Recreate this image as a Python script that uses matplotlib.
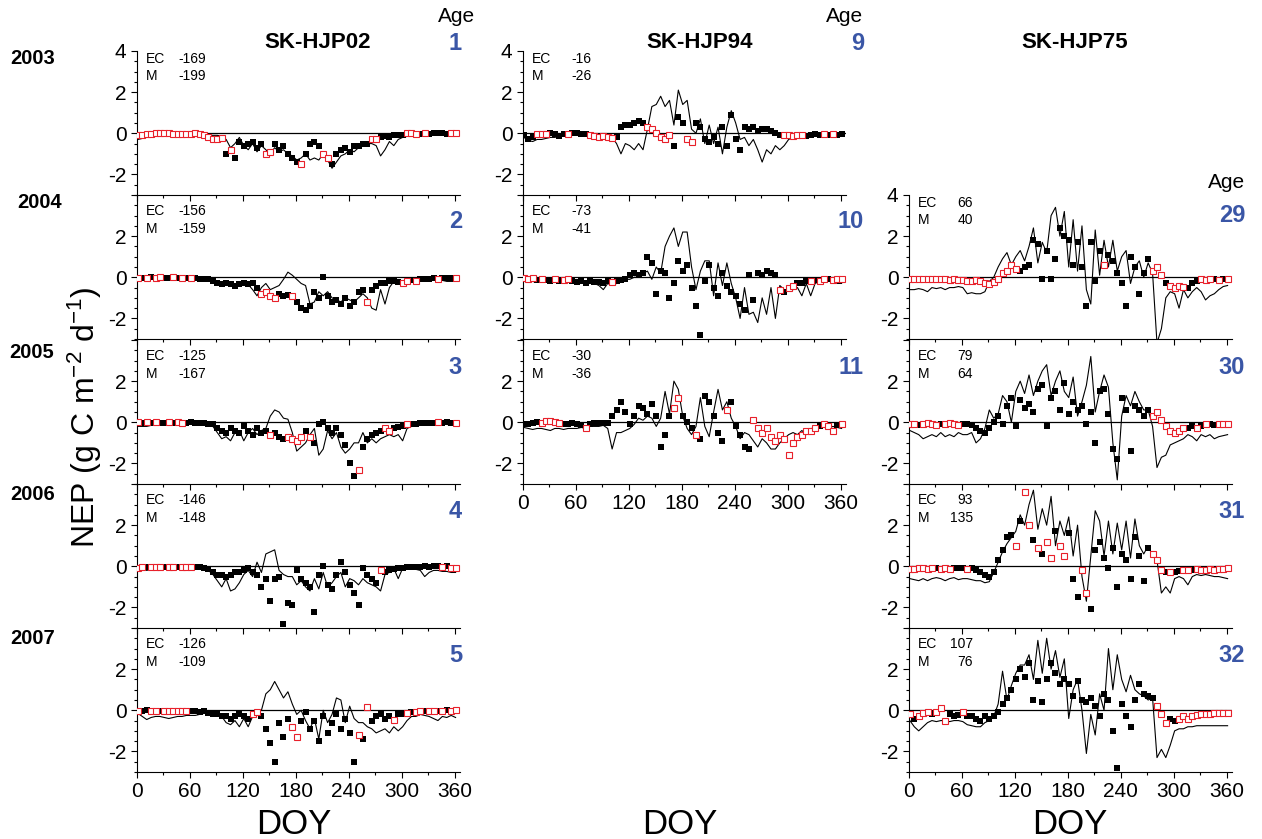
import numpy as np
import matplotlib
matplotlib.use('Agg')
import matplotlib.pyplot as plt
from matplotlib.ticker import MultipleLocator, FuncFormatter

plt.rcParams['font.family'] = ['Liberation Sans', 'DejaVu Sans']
plt.rcParams['mathtext.default'] = 'regular'

# daily series sampled every 5 days, DOY 1, 6, ..., 361
# model = simulated NEP (line), ec = eddy covariance NEP (squares), mask: b = measured, r = gap-filled

# SK-HJP02
a1_model = [-0.3, -0.25, -0.2, -0.2, -0.15, -0.15, -0.1, -0.1, -0.1, -0.1, -0.05, -0.05,
            -0.05, -0.05, -0.05, -0.05, -0.1, -0.1, -0.1, -0.15,
            -0.3, -0.7, -0.5, -0.2, -0.6, -0.8, -0.5, -0.9, -0.6, -0.8,
            -1.0, -0.7, -0.9, -0.8, -1.0, -1.1, -1.3, -1.2, -1.0, -1.3,
            -1.2, -1.3, -1.0, -1.3, -1.7, -1.4, -1.1, -1.0, -0.8, -0.9,
            -0.7, -0.6, -0.5, -0.5, -0.6, -1.1, -0.8, -0.4, -0.6, -0.3,
            -0.2, -0.15, -0.1, -0.1, -0.1, -0.05, -0.05, -0.05, 0, 0, -0.05, -0.05, -0.05]
a1_ec = [-0.1, -0.1, -0.05, -0.05, 0, 0, 0, 0, -0.05, -0.05, -0.05, -0.05,
         -0.05, 0, -0.05, -0.1, -0.2, -0.3, -0.3, -0.25,
         -1.0, -0.8, -1.2, -0.4, -0.6, -0.5, -0.4, -0.7, -0.5, -1.0,
         -0.9, -0.5, -0.8, -0.6, -1.0, -1.2, -1.4, -1.5, -1.0, -0.5,
         -0.4, -0.6, -1.0, -1.2, -1.5, -1.0, -0.8, -0.7, -0.9, -0.6,
         -0.6, -0.5, -0.5, -0.3, -0.3, -0.2, -0.15, -0.2, -0.1, -0.1,
         -0.1, 0, 0, -0.05, -0.05, 0, -0.05, 0, 0, 0, -0.05, 0, 0]
a1_mask = "rrrrrrrrrrrr" + "rrrrrrrr" + "brbbbbbbbr" + "rbbbbbbrbb" + "bbrrbbbbbb" + "bbbrrbbbbb" + "brrrbrbbbbbrr"

a2_model = [-0.1, -0.1, -0.05, -0.05, -0.05, -0.05, 0, 0, 0, -0.05, -0.05, -0.05, -0.05, -0.05, -0.1, -0.1,
            -0.15, -0.2, -0.3, -0.3, -0.35, -0.4, -0.35, -0.4, -0.3, -0.35, -0.6, -0.9,
            -0.5, -0.3, -0.6, -0.5, -0.4, -0.1, 0.25, 0.1,
            -0.1, -0.3, -0.4, -1.3, -1.2, -0.7, -0.9, -0.7, -1.0, -1.1,
            -1.2, -1.0, -1.1, -1.2, -1.0, -0.8, -1.0, -1.5, -1.6, -0.6,
            -1.3, -0.5, -0.2, -0.2, -0.2, -0.15, -0.15, -0.1, -0.1, -0.1, -0.1, -0.1, -0.15, -0.15, -0.2, -0.2, -0.2]
a2_ec = [-0.05, -0.05, -0.05, 0, -0.05, 0, -0.05, -0.05, 0, -0.05, -0.05, -0.05, -0.05, -0.05, -0.1, -0.1,
         -0.1, -0.2, -0.3, -0.35, -0.3, -0.35, -0.4, -0.35, -0.3, -0.35, -0.3, -0.5,
         -0.8, -0.7, -0.9, -1.0, -0.8, -0.9, -0.85, -0.9,
         -1.2, -1.5, -1.6, -1.4, -0.7, -1.0, 0.0, -0.9, -1.2, -1.1,
         -1.3, -1.0, -1.4, -1.2, -0.7, -0.6, -1.2, -0.6, -0.4, -0.3,
         -0.3, -0.2, -0.2, -0.25, -0.3, -0.2, -0.15, -0.2, -0.1, -0.1, -0.1, -0.05, -0.1, -0.05, -0.05, -0.05, -0.05]
a2_mask = "rbrbrrbbrbrbrbbb" + "bbbbbbbbbbbb" + "rrrrbbbr" + "bbbbbbbbbb" + "bbbbbbrbbb" + "bbbbrrbrbbbbrbbbr"

a3_model = [-0.2, -0.2, -0.2, -0.15, -0.15, -0.15, -0.1, -0.1, -0.15, -0.1, -0.1, -0.05, -0.05, -0.05, -0.05, -0.1, -0.1, -0.2,
            -0.5, -0.8, -0.7, -0.9, -0.5, -0.4, -0.9, -0.5, -0.3, -0.6,
            -0.4, -0.3, 0.3, 0.6, 0.5, 0.2, 0.15, -0.5, -1.4, -1.2,
            -1.0, -0.6, -0.3, -1.6, -1.3, -0.4, -0.8, -0.5, -1.2, -1.5,
            -1.3, -1.0, -1.0, -0.5, -1.0, -0.8, -1.0, -0.8, -0.7, -0.6,
            -0.7, -0.6, -0.9, -0.3, -0.2, -0.15, -0.1, -0.1, -0.1, -0.05, -0.1, -0.1, -0.1, -0.15, -0.15]
a3_ec = [0, -0.05, 0, -0.05, 0, -0.05, -0.05, 0, -0.05, 0, -0.05, -0.05, 0, -0.05, -0.05, -0.05, -0.1, -0.1,
         -0.3, -0.4, -0.5, -0.3, -0.4, -0.5, -0.2, -0.4, -0.6, -0.3,
         -0.5, -0.4, -0.6, -0.5, -0.7, -0.8, -0.7, -0.8, -0.9, -0.7,
         -0.4, -0.7, -1.0, -0.1, 0.0, -0.3, -0.5, -0.3, -0.6, -1.1,
         -2.0, -2.6, -2.3, -1.2, -0.8, -0.6, -0.5, -0.4, -0.3, -0.4,
         -0.3, -0.25, -0.2, -0.1, -0.1, -0.1, -0.05, -0.05, -0.05, -0.05, 0, -0.05, 0, -0.05, -0.05]
a3_mask = "rbrbrbbrbrrbbbbbbb" + "bbbbbbbbbb" + "bbrbbbrrrr" + "brbbbbbbbb" + "bbrbbbbbrr" + "bbbrbbbbbbrbbbr"

a4_model = [-0.15, -0.15, -0.2, -0.15, -0.15, -0.1, -0.15, -0.1, -0.1, -0.1, -0.15, -0.1, -0.1, -0.1, -0.1, -0.1, -0.2,
            -0.4, -0.7, -1.0, -0.6, -1.2, -1.1, -0.8, -0.4, -0.2, -0.5,
            0.2, -0.3, 0.6, 0.7, 0.8, -0.2, -0.4, -0.5, -0.5, -0.9,
            -0.7, -1.0, -1.2, -0.6, -1.1, -0.3, -1.0, -0.8, -0.5, -0.3,
            -1.0, -0.6, -0.7, -0.9, -0.6, -0.8, -0.9, -1.0, -1.2, -0.4,
            -0.3, -0.1, -0.6, -0.1, -0.1, -0.1, -0.15, -0.2, -0.5, -0.3, -0.2, -0.2, -0.25, -0.25, -0.3, -0.3]
a4_ec = [-0.1, -0.05, -0.05, -0.05, -0.05, -0.05, -0.05, -0.05, -0.05, -0.05, -0.05, -0.05, -0.05, -0.05, -0.05, -0.1, -0.15,
         -0.3, -0.4, -0.4, -0.5, -0.4, -0.3, -0.3, -0.2, -0.1, -0.3,
         -0.4, -1.0, -0.6, -1.7, -0.6, -0.5, -2.8, -1.8, -1.9, -0.2,
         -0.6, -0.8, -1.0, -2.2, -0.4, 0.0, -0.9, -1.1, -0.4, 0.2,
         -0.3, -0.9, -1.3, -1.9, -0.1, -0.4, -0.6, -0.8, -0.2, -0.3,
         -0.2, -0.15, -0.1, -0.1, -0.05, -0.05, -0.05, -0.05, 0, -0.05, 0, 0, -0.05, 0, -0.1, -0.1]
a4_mask = "rrbrrrbrrbrrrbbbb" + "bbbbbbbbbb" + "bbbbbbbbbb" + "bbbbbbbbbb" + "bbbbbbbbrb" + "bbbbbbbbbbbbrbrr"

a5_model = [-0.15, -0.3, -0.45, -0.35, -0.3, -0.3, -0.35, -0.4, -0.35, -0.3, -0.3, -0.25, -0.25, -0.25, -0.2, -0.15, -0.15,
            -0.1, -0.2, -0.3, -0.6, -0.7, -0.5, -0.8, -0.4, -0.8, -0.3,
            -0.1, 0.0, 0.8, 1.0, 1.4, 1.0, 0.6, 0.9, 0.3, -0.2,
            0.0, -0.5, -0.9, -0.4, -1.4, 0.0, -0.6, -0.2, 0.6, 0.5,
            -0.6, 0.2, -0.4, -0.6, -0.6, -0.8, -0.9, -1.1, -1.0, -0.9,
            -1.1, -0.8, -1.0, -0.8, -0.5, -0.3, -0.3, -0.2, -0.25, -0.3, -0.4, -0.5, -0.3, -0.35, -0.25, -0.35]
a5_ec = [-0.05, -0.05, 0, -0.05, -0.05, -0.05, -0.05, -0.05, -0.05, -0.05, -0.05, -0.05, -0.05, -0.05, -0.1, -0.05, -0.15,
         -0.2, -0.2, -0.3, -0.3, -0.4, -0.3, -0.2, -0.3, -0.4, -0.2,
         -0.1, -0.3, -0.9, -1.6, -2.5, -0.6, -1.3, -0.4, -0.8, -1.3,
         -0.5, -0.1, -0.9, -0.5, -1.5, -0.3, -1.1, -0.6, -0.2, -0.9,
         -0.4, -1.1, -2.5, -1.2, -1.4, 0.15, -0.5, -0.3, -0.2, -0.4,
         -0.3, -0.45, -0.2, -0.2, -0.15, -0.1, -0.1, -0.05, -0.05, -0.05, -0.05, -0.05, -0.05, 0, -0.05, 0]
a5_mask = "rbbrrbrrrrrrbbbbb" + "bbbbbbbbbr" + "rbbbbbbbrr" + "bbbbbbbbbb" + "bbbrbrbbbb" + "brbbrbrrbrrbrbrr"

# SK-HJP94
b1_model = [-0.2, -0.35, -0.4, -0.3, -0.3, -0.25, -0.2, -0.2, -0.15, -0.15, -0.1, -0.1, -0.05, -0.05, -0.1, -0.1, -0.1,
            -0.15, -0.2, -0.2, -0.2, -0.5, -1.0, -0.5, -0.6, -0.8, -0.5,
            -0.8, 0.2, 1.3, 1.4, 1.8, 1.3, 1.6, 0.4, 2.1, 1.4,
            1.6, 0.2, 0.0, 0.7, -0.5, 0.4, -0.5, 0.3, -1.0, 0.3,
            1.1, 0.5, -0.3, -0.2, -0.6, -0.3, -0.8, -1.4, -0.8, -1.0,
            -0.6, -0.8, -0.6, -0.3, -0.2, -0.2, -0.15, -0.2, -0.15, -0.1, -0.15, -0.1, -0.1, -0.15, -0.15, -0.15]
b1_ec = [-0.1, -0.3, -0.2, -0.05, -0.05, -0.05, 0, -0.05, -0.15, -0.05, -0.05, 0, 0, -0.05, -0.05, -0.1, -0.15,
         -0.2, -0.15, -0.2, -0.25, -0.2, 0.3, 0.4, 0.4, 0.5, 0.6,
         0.5, 0.3, 0.2, 0.0, -0.2, -0.3, -0.1, -0.6, 0.8, 0.5,
         -0.3, -0.4, 0.5, 0.3, -0.3, -0.4, -0.2, -0.5, 0.3, -0.6,
         0.9, -0.3, -0.8, 0.3, 0.2, 0.3, 0.1, 0.2, 0.2, 0.1,
         0.0, -0.1, -0.1, -0.1, -0.15, -0.1, -0.1, -0.15, -0.1, -0.05, -0.1, -0.05, -0.1, -0.05, -0.1, -0.05]
b1_mask = "bbbrrrbbbbrbbbbrr" + "rrrrbbbbbb" + "brrrrrrbbb" + "rrbbbbbbbb" + "bbbbbbbbbb" + "bbrrrrrbbbbrbrbb"

b2_model = [-0.15, -0.2, -0.2, -0.25, -0.2, -0.2, -0.2, -0.25, -0.2, -0.2, -0.25, -0.2, -0.2, -0.25, -0.3, -0.3, -0.3,
            -0.4, -0.6, -0.3, -0.4, -0.3, -0.2, -0.1, -0.1, 0.0, 0.0,
            0.2, 0.3, -0.1, 0.5, 0.2, 1.5, 2.0, 2.4, 1.5, 2.2,
            2.2, 0.5, -0.6, 0.3, 0.8, 0.8, -0.9, 0.7, -0.4, 0.7,
            -0.3, -1.0, -2.0, -0.5, -1.8, -1.7, -2.2, -1.0, -1.8, -0.5,
            -2.0, -0.4, -0.6, -0.6, -0.6, -0.5, -0.9, -0.3, -0.9, -0.3, -0.2, -0.25, -0.2, -0.2, -0.3, -0.3]
b2_ec = [-0.05, -0.1, -0.05, -0.15, -0.1, -0.15, -0.2, -0.1, -0.2, -0.15, -0.1, -0.2, -0.25, -0.2, -0.3, -0.2, -0.25,
         -0.25, -0.3, -0.2, -0.25, -0.2, -0.15, -0.1, 0.1, 0.2, 0.1,
         0.2, 1.0, 0.7, -0.8, 0.3, 0.2, -1.0, -0.3, 0.8, 0.3,
         0.6, -0.5, -1.4, -2.8, -0.2, 0.6, -0.5, -0.9, 0.2, -0.4,
         -0.7, -0.9, -1.3, -1.6, 0.1, -1.1, 0.2, 0.1, 0.3, 0.2,
         0.1, -0.6, -0.7, -0.5, -0.4, -0.3, -0.3, -0.2, -0.2, -0.15, -0.2, -0.1, -0.1, -0.15, -0.1, -0.1]
b2_mask = "rrrbrbbrbrrbbbbbb" + "bbbrbbbbbb" + "bbbbbbbbbb" + "bbbbbbbbbb" + "bbbbbbbbbb" + "brbrrbbbrbrrbrrr"

b3_model = [-0.25, -0.3, -0.35, -0.3, -0.3, -0.35, -0.4, -0.3, -0.3, -0.35, -0.3, -0.3, -0.3, -0.25, -0.3, -0.2, -0.2, -0.2, -0.15, -0.3,
            -1.3, -0.5, -0.5, -0.4, -0.3, -0.1, 0.2, 0.1, 0.3, 0.2,
            -0.2, 0.2, 1.5, 0.4, 2.0, 1.6, 0.3, -0.3, -0.6, -0.2,
            1.2, -0.2, -0.7, 0.5, 1.6, 0.6, 1.0, 0.2, -0.2, -0.8,
            -0.5, -0.6, -0.9, -1.2, -0.8, -1.0, -1.3, -1.3, -1.0, -0.8,
            -0.6, -0.5, -0.6, -0.4, -0.6, -0.3, -0.3, -0.25, -0.2, -0.3, -0.2, -0.25, -0.3]
b3_ec = [-0.1, -0.1, -0.05, 0, -0.05, 0.05, 0.05, 0, -0.05, -0.1, -0.1, -0.05, -0.1, -0.15, -0.3, -0.1, -0.05, -0.05, -0.05, -0.05,
         0.3, 0.6, 1.0, 0.5, -0.1, 0.3, 0.8, 0.7, 0.4, 0.9,
         0.3, -1.2, -0.6, 0.3, 0.7, 1.2, 0.3, 0.0, -0.3, -0.6,
         -0.8, 1.3, 1.0, 0.3, -0.5, -0.9, 0.6, 1.0, -0.2, -0.6,
         -1.2, -1.3, 0.1, -0.3, -0.5, -0.3, -0.7, -0.9, -0.6, -0.8,
         -1.6, -1.0, -0.7, -0.6, -0.4, -0.4, -0.3, -0.2, -0.1, -0.2, -0.4, -0.15, -0.1]
b3_mask = "bbbbrrrrrbbbbbrbbbbb" + "bbbbbbbbbb" + "bbbbrrbbbr" + "bbbbbbrbbb" + "bbrrrrrrrr" + "rrrrrrrbrrrbr"

# SK-HJP75
c2_model = [-0.6, -0.6, -0.55, -0.6, -0.7, -0.5, -0.55, -0.5, -0.6, -0.5, -0.5, -0.45, -0.5, -0.8, -0.75, -0.8, -0.8,
            -0.7, -0.2, 0.0, 0.5, 0.9, 1.2, 0.6, 1.0, 1.3, 0.8,
            1.5, 2.4, 0.7, 1.7, 1.2, 3.0, 3.4, 2.0, 3.2, 0.5,
            2.8, 0.3, 2.5, -0.6, -1.3, 2.3, 0.1, 1.8, 0.5, 1.8,
            0.3, 1.0, 1.3, -0.3, 0.5, 0.8, 0.0, 0.7, 0.2, -3.2,
            -2.5, -1.0, -0.7, -0.8, -1.5, -0.6, -1.0, -0.7, -0.5, -0.7, -1.1, -0.9, -0.8, -0.6, -0.45, -0.4]
c2_ec = [-0.1, -0.1, -0.1, -0.1, -0.1, -0.1, -0.1, -0.1, -0.1, -0.15, -0.1, -0.15, -0.15, -0.2, -0.2, -0.15, -0.2,
         -0.3, -0.35, -0.25, -0.1, 0.2, 0.3, 0.6, 0.4, 0.3, 0.5,
         0.6, 1.8, 1.6, -0.1, 1.3, -0.1, 0.9, 2.4, 2.0, 1.8,
         0.6, 1.7, 0.5, -1.4, 1.7, -0.2, 1.3, 0.6, 1.1, 0.8,
         0.2, -0.3, -1.4, 1.0, 0.5, -0.8, 0.2, 0.9, 0.3, 0.5,
         0.1, -0.3, -0.4, -0.5, -0.4, -0.45, -0.5, -0.3, -0.2, -0.1, -0.15, -0.1, -0.1, -0.15, -0.1, -0.1]
c2_mask = "rrrrrrrrrrrrrrrrr" + "rrrrrrrrbb" + "bbbbbbbbbb" + "bbbbbbbrbb" + "bbbbbbbbrr" + "rbrrrrbbbrrrbrbr"

c3_model = [-0.4, -0.5, -0.6, -0.8, -0.7, -0.6, -0.7, -0.5, -0.7, -0.6, -0.7, -0.5, -0.6, -0.6, -0.5, -1.0, -0.8,
            -0.3, 0.6, 0.2, 0.4, 1.3, 1.0, 0.0, 1.5, 2.0, 1.4,
            2.3, 1.3, 2.0, 2.5, 2.8, 1.3, 2.0, 2.5, 1.5, 1.2,
            2.2, 0.3, 1.0, 1.8, 3.2, 0.5, 1.5, 2.3, 1.7, -1.0,
            -2.8, 0.3, 1.3, 0.8, 1.5, 1.0, 0.6, 0.6, -0.2, -2.2,
            -1.7, -1.6, -1.1, -1.0, -0.9, -0.8, -0.6, -0.7, -0.9, -0.6, -0.7, -0.6, -0.8, -0.7, -0.65, -0.6]
c3_ec = [-0.1, -0.1, -0.15, -0.1, -0.05, -0.1, -0.15, -0.1, -0.1, -0.05, -0.1, -0.15, -0.1, -0.1, -0.15, -0.3, -0.4,
         -0.5, -0.3, 0.0, 0.3, -0.1, 0.8, 1.2, -0.2, 1.1, 0.7,
         0.9, 0.5, 1.6, 1.8, -0.2, 1.2, 1.5, 0.6, 1.9, 0.4,
         1.0, 0.6, 0.8, -0.1, 0.5, -1.0, 1.5, 1.6, 0.4, -1.3,
         -1.8, 1.2, 0.6, -1.4, 0.8, 0.6, 0.3, 0.6, 0.3, 0.5,
         0.1, -0.2, -0.4, -0.5, -0.4, -0.3, -0.3, -0.2, -0.3, -0.2, -0.1, -0.1, -0.15, -0.1, -0.1, -0.1]
c3_mask = "rrbrrrrbrrrrbbbbb" + "bbbbbbbbbb" + "bbbbbbbbbb" + "bbbbbbbbbb" + "bbbbbbbbrr" + "rrrrrrbbrbrbbrrr"

c4_model = [-0.6, -0.65, -0.7, -0.6, -0.7, -0.6, -0.55, -0.6, -0.7, -0.6, -0.55, -0.65, -0.6, -0.6, -0.65, -0.7, -0.7,
            -0.8, -0.75, -0.3, 0.2, 0.7, 1.1, 1.4, 1.7, 2.5, 2.0,
            3.0, 3.7, 1.8, 2.8, 2.0, 3.4, 1.0, 2.2, 1.5, 2.4,
            0.5, 2.0, -0.5, -1.7, 0.5, 2.7, 2.2, 0.5, 2.2, 0.6,
            2.1, 0.8, 2.2, 0.4, 2.3, 1.0, 0.6, 1.0, 0.5, 0.3,
            -1.3, -1.0, -1.3, -0.6, -0.5, -0.6, -0.9, -0.5, -0.4, -0.45, -0.4, -0.45, -0.5, -0.5, -0.55, -0.6]
c4_ec = [-0.15, -0.15, -0.1, -0.1, -0.15, -0.1, -0.1, -0.15, -0.1, -0.15, -0.1, -0.1, -0.1, -0.15, -0.1, -0.2, -0.3,
         -0.4, -0.5, -0.3, 0.3, 0.8, 1.4, 1.5, 1.0, 2.2, 3.6,
         2.0, 1.3, 0.9, 0.6, 1.2, 0.4, 1.7, 1.0, 0.5, 1.6,
         -0.6, -1.5, -0.2, -1.3, -2.1, 0.8, 1.2, 0.4, -0.1, 0.9,
         -1.0, 0.6, 0.3, -0.6, 1.4, 0.5, -0.7, 0.9, 0.6, 0.3,
         -0.2, -0.3, -0.3, -0.3, -0.25, -0.2, -0.2, -0.2, -0.15, -0.2, -0.2, -0.15, -0.2, -0.15, -0.15, -0.1]
c4_mask = "rrrrrrbrrrbbbrbbb" + "bbbbbbbrbr" + "rbrbrrbrrb" + "bbrrbbbbbb" + "bbbbbbbbrr" + "rbrbbrrbrrrrrrrr"

c5_model = [-0.5, -0.8, -1.0, -0.8, -0.6, -0.5, -0.55, -0.5, -0.5, -0.55, -0.5, -0.5, -0.55, -0.7, -0.75, -0.8, -0.8,
            -0.6, -0.5, -0.3, 0.3, 1.9, 0.5, 1.2, 1.8, 2.2, 2.2,
            2.7, 1.5, 3.4, 1.8, 3.5, 2.0, 2.9, 1.6, 2.5, -0.4,
            1.0, 1.5, 0.0, -2.1, -0.2, -1.2, 0.8, 0.0, 3.0, 1.0,
            2.7, 1.5, 0.9, 1.7, 1.0, 0.8, 0.7, 0.5, 0.6, -2.3,
            -1.9, -2.3, -1.7, -1.0, -0.9, -0.9, -0.8, -0.8, -0.75, -0.75, -0.75, -0.75, -0.75, -0.75, -0.75, -0.75]
c5_ec = [-0.2, -0.4, -0.3, -0.15, -0.1, -0.2, -0.1, 0.1, -0.5, -0.2, -0.3, -0.25, -0.1, -0.3, -0.3, -0.4, -0.5,
         -0.3, -0.4, -0.3, -0.1, 0.3, 0.6, 1.0, 1.5, 2.0, 1.6,
         2.3, 0.5, 1.4, 0.4, 1.5, 2.3, 1.8, 1.3, 1.5, 1.3,
         0.7, 1.4, 0.5, 0.4, 0.6, 0.2, -0.3, 0.8, 0.5, -1.0,
         -2.8, 0.3, -0.3, -0.8, 0.5, 1.3, 0.8, 0.7, 0.6, 0.2,
         -0.2, -0.6, -0.4, -0.5, -0.4, -0.3, -0.4, -0.3, -0.25, -0.2, -0.2, -0.2, -0.15, -0.15, -0.15, -0.15]
c5_mask = "rbrrrbrrrbbbrbbbb" + "bbbbbbbbbb" + "bbbbbbbbbb" + "bbbbbbbbbb" + "bbbbbbbbbr" + "rrbbrrrrrrrrrrrr"

# annual totals (g C m-2 yr-1) and stand age
panels = [
    # col, row, model, ec, mask, EC total, M total, age
    (0, 0, a1_model, a1_ec, a1_mask, '-169', '-199', '1'),
    (0, 1, a2_model, a2_ec, a2_mask, '-156', '-159', '2'),
    (0, 2, a3_model, a3_ec, a3_mask, '-125', '-167', '3'),
    (0, 3, a4_model, a4_ec, a4_mask, '-146', '-148', '4'),
    (0, 4, a5_model, a5_ec, a5_mask, '-126', '-109', '5'),
    (1, 0, b1_model, b1_ec, b1_mask, '-16', '-26', '9'),
    (1, 1, b2_model, b2_ec, b2_mask, '-73', '-41', '10'),
    (1, 2, b3_model, b3_ec, b3_mask, '-30', '-36', '11'),
    (2, 1, c2_model, c2_ec, c2_mask, '66', '40', '29'),
    (2, 2, c3_model, c3_ec, c3_mask, '79', '64', '30'),
    (2, 3, c4_model, c4_ec, c4_mask, '93', '135', '31'),
    (2, 4, c5_model, c5_ec, c5_mask, '107', '76', '32'),
]
sites = ['SK-HJP02', 'SK-HJP94', 'SK-HJP75']
years = ['2003', '2004', '2005', '2006', '2007']

W, H = 1262, 839
col_left = [137, 523, 909]
row_top = [51, 195, 340, 484, 628]
ax_w, ax_h = 323, 144
top_row = {0: 0, 1: 0, 2: 1}
bottom_row = {0: 4, 1: 2, 2: 4}
blue = '#3a56a6'


def fx(px):
    return px / W


def fy(py):
    return 1 - py / H


fig = plt.figure(figsize=(W / 100, H / 100), dpi=100)

for col, row, model, ec, mask, ec_tot, m_tot, age in panels:
    x0 = col_left[col]
    y0 = row_top[row]
    ax = fig.add_axes([fx(x0), fy(y0 + ax_h), ax_w / W, ax_h / H])
    model = np.array(model, dtype=float)
    ec = np.array(ec, dtype=float)
    doy = 1 + 5 * np.arange(len(model))
    doy_ec = 1 + 5 * np.arange(len(ec))
    m = np.array(list(mask.ljust(len(ec), 'b')[:len(ec)]))

    ax.axhline(0, color='k', lw=0.9, zorder=1)
    ax.plot(doy, model, color='k', lw=0.8, zorder=2)
    ax.plot(doy_ec[m == 'b'], ec[m == 'b'], 's', ms=4.2, color='k', mew=0, zorder=3)
    ax.plot(doy_ec[m == 'r'], ec[m == 'r'], 's', ms=3.8, mfc='white', mec='#e8202a', mew=0.8, zorder=4)

    ax.set_xlim(0, 366)
    ax.set_ylim(-3, 4)
    ax.spines['top'].set_visible(False)
    ax.spines['right'].set_visible(False)
    ax.set_facecolor('none')
    ax.xaxis.set_major_locator(MultipleLocator(60))
    ax.xaxis.set_minor_locator(MultipleLocator(30))
    ax.yaxis.set_major_locator(MultipleLocator(2))
    ax.yaxis.set_minor_locator(MultipleLocator(0.5))
    ax.tick_params(which='both', direction='out', labelsize=15, width=0.8)
    ax.tick_params(which='major', length=4)
    ax.tick_params(which='minor', length=2.5)
    if row != bottom_row[col]:
        ax.tick_params(axis='x', labelbottom=False)
    if row != top_row[col]:
        ax.yaxis.set_major_formatter(FuncFormatter(lambda v, p: '' if v > 3 else '%d' % v))
    else:
        ax.yaxis.set_major_formatter(FuncFormatter(lambda v, p: '%d' % v))

    # annual totals
    if row == top_row[col]:
        ty1, ty2 = 8, 25
    else:
        ty1, ty2 = 16, 34
    ax.text(9 / ax_w, 1 - ty1 / ax_h, 'EC', transform=ax.transAxes,
            fontsize=10, va='center', ha='left')
    ax.text(9 / ax_w, 1 - ty2 / ax_h, 'M', transform=ax.transAxes,
            fontsize=10, va='center', ha='left')
    if col == 2:
        ax.text(64 / ax_w, 1 - ty1 / ax_h, ec_tot, transform=ax.transAxes, fontsize=10, va='center', ha='right')
        ax.text(64 / ax_w, 1 - ty2 / ax_h, m_tot, transform=ax.transAxes, fontsize=10, va='center', ha='right')
    else:
        off = 41 if col == 0 else 48
        ax.text(off / ax_w, 1 - ty1 / ax_h, ec_tot, transform=ax.transAxes, fontsize=10, va='center', ha='left')
        ax.text(off / ax_w, 1 - ty2 / ax_h, m_tot, transform=ax.transAxes, fontsize=10, va='center', ha='left')

    # stand age
    age_x = [462, 864, 1245][col]
    age_y = 43 if (row == 0) else y0 + 27
    if col == 2 and row == 1:
        age_y = y0 + 20
    fig.text(fx(age_x), fy(age_y), age, color=blue, fontsize=17, fontweight='bold', ha='right', va='center')

    if row == bottom_row[col]:
        doy_x = [294, 680, 1070][col]
        doy_y = [824, 825, 824][col]
        fig.text(fx(doy_x), fy(doy_y), 'DOY', fontsize=25, ha='center', va='center')

fig.text(fx(457), fy(17), 'Age', fontsize=15, ha='center', va='center')
fig.text(fx(845), fy(17), 'Age', fontsize=15, ha='center', va='center')
fig.text(fx(1227), fy(182), 'Age', fontsize=15, ha='center', va='center')

for name, cx in zip(sites, [318, 700, 1075]):
    fig.text(fx(cx), fy(43), name, fontsize=16, fontweight='bold', ha='center', va='center')

for yr, cy, cx in zip(years, [58, 202, 352, 494, 638], [33, 40, 32, 33, 33]):
    fig.text(fx(cx), fy(cy), yr, fontsize=14.5, fontweight='bold', ha='center', va='center')

fig.text(fx(85), fy(417), 'NEP (g C m$^{-2}$ d$^{-1}$)', fontsize=23, rotation=90, ha='center', va='center')

fig.savefig('out.png', dpi=100)
